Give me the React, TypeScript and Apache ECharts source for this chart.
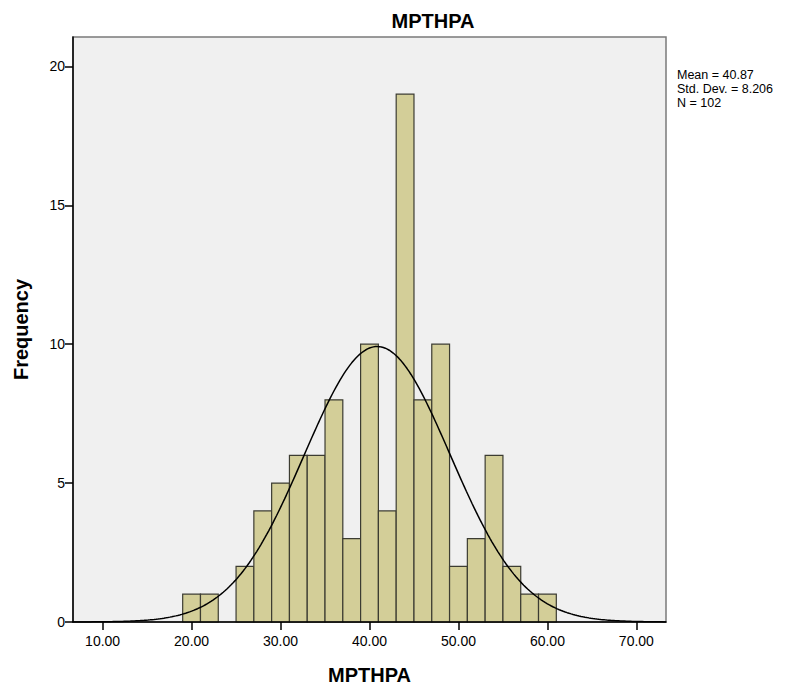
import React, { useEffect, useRef } from "react";
import * as echarts from "echarts";

// Histogram bins (lower edge), bin width and counts
const BIN_STARTS = [19, 21, 23, 25, 27, 29, 31, 33, 35, 37, 39, 41, 43, 45, 47, 49, 51, 53, 55, 57, 59];
const FREQUENCIES = [1, 1, 0, 2, 4, 5, 6, 6, 8, 3, 10, 4, 19, 8, 10, 2, 3, 6, 2, 1, 1];
const BIN_WIDTH = 2;

// Axis ticks
const X_TICKS = [10, 20, 30, 40, 50, 60, 70];
const Y_TICKS = [0, 5, 10, 15, 20];

// Summary statistics shown in the chart (define the fitted normal curve)
const MEAN = 40.87;
const STD_DEV = 8.206;
const N = 102;

const X_MIN = 6.67;
const X_MAX = 73.33;
const Y_MAX = 21.06;

const FONT = "'Liberation Sans', Arial, sans-serif";

export default function App() {
  const ref = useRef<HTMLDivElement>(null);

  useEffect(() => {
    if (!ref.current) return;
    const chart = echarts.init(ref.current, null, { renderer: "svg" });

    const barData = BIN_STARTS.map((s, i) => [s, s + BIN_WIDTH, FREQUENCIES[i]]);

    const curve: number[][] = [];
    const steps = 300;
    for (let i = 0; i <= steps; i++) {
      const x = X_MIN + ((X_MAX - X_MIN) * i) / steps;
      const z = (x - MEAN) / STD_DEV;
      const y = (N * BIN_WIDTH * Math.exp(-0.5 * z * z)) / (STD_DEV * Math.sqrt(2 * Math.PI));
      curve.push([x, y]);
    }

    chart.setOption({
      animation: false,
      backgroundColor: "#ffffff",
      textStyle: { fontFamily: FONT },
      title: {
        text: "MPTHPA",
        left: 428,
        top: 6,
        textAlign: "center",
        textStyle: { fontFamily: FONT, fontSize: 20, fontWeight: "bold", color: "#000" },
      },
      grid: {
        left: 73,
        top: 37,
        right: 132,
        bottom: 66,
        show: true,
        backgroundColor: "#f0f0f0",
        borderColor: "#7a7a7a",
        borderWidth: 1.5,
      },
      xAxis: {
        type: "value",
        min: X_MIN,
        max: X_MAX,
        z: 10,
        name: "MPTHPA",
        nameLocation: "middle",
        nameGap: 43,
        nameTextStyle: { fontFamily: FONT, fontSize: 20, fontWeight: "bold", color: "#000" },
        axisLine: { show: true, lineStyle: { color: "#000", width: 1.5 } },
        axisTick: { show: true, length: 8, customValues: X_TICKS, lineStyle: { color: "#000", width: 1.5 } },
        axisLabel: {
          customValues: X_TICKS,
          formatter: (v: number) => v.toFixed(2),
          fontFamily: FONT,
          fontSize: 14,
          color: "#000",
          margin: 12,
        },
        splitLine: { show: false },
      },
      yAxis: {
        type: "value",
        min: 0,
        max: Y_MAX,
        z: 10,
        name: "Frequency",
        nameLocation: "middle",
        nameGap: 42,
        nameTextStyle: { fontFamily: FONT, fontSize: 20, fontWeight: "bold", color: "#000" },
        axisLine: { show: true, lineStyle: { color: "#000", width: 1.5 } },
        axisTick: { show: true, length: 8, customValues: Y_TICKS, lineStyle: { color: "#000", width: 1.5 } },
        axisLabel: {
          customValues: Y_TICKS,
          fontFamily: FONT,
          fontSize: 14,
          color: "#000",
          margin: 8,
        },
        splitLine: { show: false },
      },
      series: [
        {
          type: "custom",
          name: "Frequency",
          data: barData,
          encode: { x: [0, 1], y: 2 },
          renderItem: (params: any, api: any) => {
            const s = api.value(0);
            const e = api.value(1);
            const f = api.value(2);
            if (!f) return null;
            const p0 = api.coord([s, f]);
            const p1 = api.coord([e, 0]);
            return {
              type: "rect",
              shape: { x: p0[0], y: p0[1], width: p1[0] - p0[0], height: p1[1] - p0[1] },
              style: { fill: "#d3ce98", stroke: "#3c3c32", lineWidth: 1.2 },
            };
          },
          z: 2,
        },
        {
          type: "line",
          name: "Normal",
          data: curve,
          showSymbol: false,
          symbol: "none",
          smooth: false,
          lineStyle: { color: "#000", width: 1.5 },
          z: 3,
        },
      ],
      graphic: [
        {
          type: "text",
          left: 677,
          top: 68,
          style: {
            text: `Mean = ${MEAN.toFixed(2)}\nStd. Dev. = ${STD_DEV.toFixed(3)}\nN = ${N}`,
            fontFamily: FONT,
            fontSize: 12.5,
            lineHeight: 14,
            fill: "#000",
          },
        },
      ],
    });

    return () => chart.dispose();
  }, []);

  return (
    <div
      ref={ref}
      style={{ position: "fixed", left: 0, top: 0, width: 798, height: 690 }}
    />
  );
}
